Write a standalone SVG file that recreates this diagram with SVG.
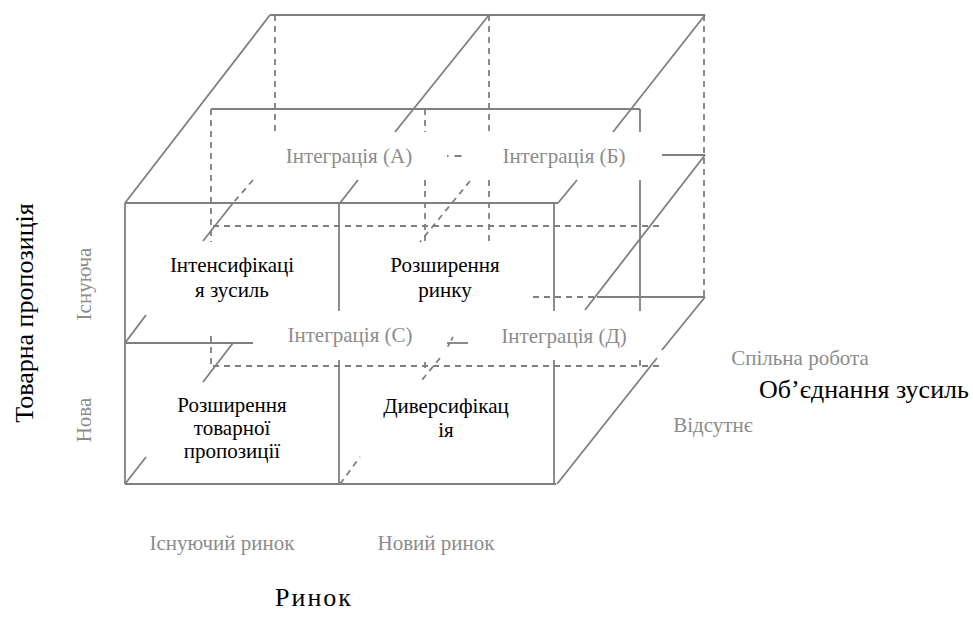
<svg xmlns="http://www.w3.org/2000/svg" width="973" height="635" viewBox="0 0 973 635">
<style>
.s{stroke:#7f7f7f;stroke-width:1.8;fill:none}
.d{stroke:#7f7f7f;stroke-width:1.8;fill:none;stroke-dasharray:6,5}
.b{font-size:21px;fill:#000}
.g{font-size:21px;fill:#8c8c8c}
.t{font-size:26px;fill:#000}
</style>
<rect width="973" height="635" fill="#fff"/>
<g id="connectors">
<g class="s">
<line x1="270" y1="15" x2="705" y2="15"/>
<line x1="270" y1="15" x2="125" y2="203"/>
<line x1="489" y1="15" x2="395" y2="132"/>
<line x1="358" y1="180" x2="340" y2="203"/>
<line x1="705" y1="15" x2="613" y2="132"/>
<line x1="577" y1="180" x2="558" y2="203"/>
<line x1="125" y1="203" x2="558" y2="203"/>
<line x1="125" y1="203" x2="125" y2="484"/>
<line x1="125" y1="484" x2="556" y2="484"/>
<line x1="339" y1="203" x2="339" y2="311"/>
<line x1="339" y1="360" x2="339" y2="484"/>
<line x1="554" y1="203" x2="554" y2="311"/>
<line x1="554" y1="360" x2="554" y2="484"/>
<line x1="211" y1="109" x2="640" y2="109"/>
<line x1="640" y1="109" x2="640" y2="132"/>
<line x1="640" y1="180" x2="640" y2="311"/>
<line x1="662" y1="155" x2="705" y2="155"/>
<line x1="705" y1="155" x2="585" y2="310"/>
<line x1="597" y1="297" x2="705" y2="297"/>
<line x1="705" y1="297" x2="662" y2="350"/>
<line x1="657" y1="358" x2="557" y2="484"/>
<line x1="125" y1="343" x2="253" y2="343"/>
<line x1="125" y1="343" x2="146" y2="315"/>
<line x1="125" y1="484" x2="146" y2="457"/>
<line x1="233" y1="203" x2="203" y2="241"/>
<line x1="233" y1="343" x2="203" y2="382"/>
<line x1="447" y1="343" x2="468" y2="343"/>
</g>
<g class="d">
<line x1="275" y1="15" x2="275" y2="132"/>
<line x1="489" y1="15" x2="489" y2="132"/>
<line x1="489" y1="180" x2="489" y2="241"/>
<line x1="704" y1="15" x2="704" y2="297"/>
<line x1="211" y1="109" x2="211" y2="242"/>
<line x1="425" y1="109" x2="425" y2="132"/>
<line x1="425" y1="180" x2="425" y2="241"/>
<line x1="213" y1="226" x2="662" y2="226"/>
<line x1="211" y1="336" x2="211" y2="366"/>
<line x1="213" y1="366" x2="662" y2="366"/>
<line x1="253" y1="180" x2="233" y2="203"/>
<line x1="470" y1="181" x2="420" y2="242"/>
<line x1="440" y1="358" x2="422" y2="380"/>
<line x1="533" y1="297" x2="597" y2="297"/>
<line x1="340" y1="484" x2="360" y2="457"/>
<line x1="447" y1="156" x2="462" y2="156" stroke-dasharray="1.5,6,7,10"/>
<line x1="453" y1="337" x2="447" y2="348" stroke-dasharray="4,3"/>
<line x1="425" y1="362" x2="425" y2="373"/>
<line x1="640" y1="360" x2="640" y2="366"/>
</g>
</g>
<g font-family="Liberation Serif, Times New Roman, serif" text-anchor="middle">
<g id="cell-intensification"><text class="b" x="232" y="272">Інтенсифікаці</text><text class="b" x="232" y="297">я зусиль</text></g>
<g id="cell-market-expansion"><text class="b" x="445" y="272">Розширення</text><text class="b" x="445" y="297">ринку</text></g>
<g id="cell-product-expansion"><text class="b" x="232" y="412">Розширення</text><text class="b" x="232" y="435">товарної</text><text class="b" x="232" y="458">пропозиції</text></g>
<g id="cell-diversification"><text class="b" x="446" y="413">Диверсифікац</text><text class="b" x="446" y="437">ія</text></g>
<g id="int-a"><text class="g" x="349" y="163">Інтеграція (А)</text></g>
<g id="int-b"><text class="g" x="564" y="163">Інтеграція (Б)</text></g>
<g id="int-c"><text class="g" x="350" y="342">Інтеграція (С)</text></g>
<g id="int-d"><text class="g" x="564" y="343">Інтеграція (Д)</text></g>
<g id="axis-labels">
<text class="g" x="800" y="365">Спільна робота</text>
<text class="t" x="864" y="398">Об’єднання зусиль</text>
<text class="g" x="713" y="432">Відсутнє</text>
<text class="g" x="222" y="550">Існуючий ринок</text>
<text class="g" x="436" y="550">Новий ринок</text>
<text class="t" x="314" y="606" font-size="27" letter-spacing="2">Ринок</text>
<text class="t" font-size="27" transform="translate(33,313) rotate(-90)">Товарна пропозиція</text>
<text class="g" transform="translate(91,284) rotate(-90)">Існуюча</text>
<text class="g" transform="translate(91,420) rotate(-90)">Нова</text>
</g>
</g>
</svg>
